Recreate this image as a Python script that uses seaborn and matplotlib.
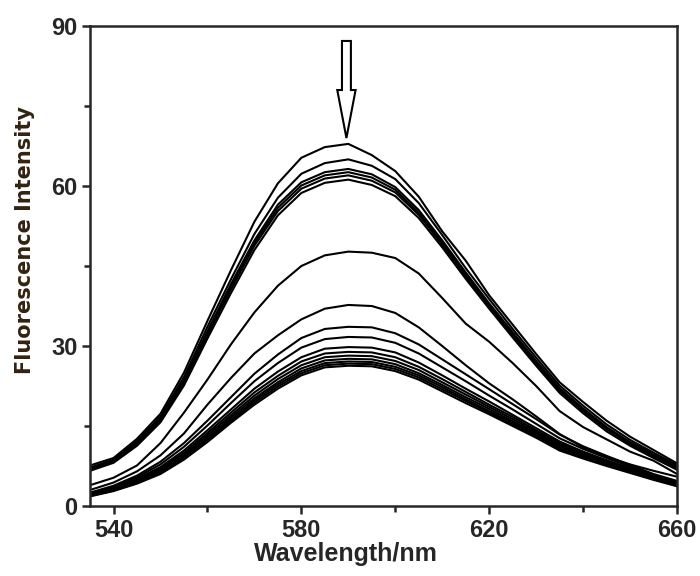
import numpy as np
import pandas as pd
import seaborn as sns
import matplotlib
matplotlib.use('Agg')
import matplotlib.pyplot as plt
from matplotlib.patches import FancyArrow
from matplotlib.ticker import MultipleLocator

# wavelength grid (nm), read every 5 nm
wavelength = [535, 540, 545, 550, 555, 560, 565, 570, 575, 580, 585, 590, 595,
              600, 605, 610, 615, 620, 625, 630, 635, 640, 645, 650, 655, 660]

# fluorescence spectra (top to bottom)
curve_a = [7.6, 9.0, 12.6, 17.3, 25.0, 34.7, 44.2, 53.3, 60.5, 65.3, 67.3, 67.9, 65.8,
           62.8, 58.0, 51.5, 46.0, 39.5, 34.0, 28.5, 23.2, 19.5, 16.0, 13.0, 10.5, 8.0]
curve_b = [7.2, 8.7, 12.2, 16.8, 24.2, 33.6, 42.5, 51.0, 57.8, 62.3, 64.3, 65.0, 63.8,
           61.3, 56.8, 50.8, 44.6, 38.8, 33.2, 27.8, 22.6, 18.8, 15.3, 12.4, 10.0, 7.7]
curve_c = [7.0, 8.5, 11.9, 16.4, 23.6, 32.8, 41.6, 49.8, 56.5, 60.7, 62.6, 63.2, 62.2,
           59.8, 55.5, 49.8, 43.8, 38.0, 32.6, 27.2, 22.1, 18.3, 14.8, 12.0, 9.7, 7.4]
curve_d = [6.9, 8.4, 11.8, 16.2, 23.3, 32.4, 41.1, 49.3, 55.9, 60.1, 62.0, 62.6, 61.6,
           59.3, 55.0, 49.4, 43.4, 37.7, 32.3, 27.0, 21.9, 18.1, 14.6, 11.8, 9.5, 7.2]
curve_e = [6.8, 8.3, 11.6, 16.0, 23.0, 32.0, 40.6, 48.8, 55.3, 59.5, 61.4, 62.0, 61.0,
           58.8, 54.6, 49.0, 43.0, 37.4, 32.0, 26.7, 21.6, 17.8, 14.4, 11.6, 9.3, 7.0]
curve_f = [6.6, 8.1, 11.3, 15.7, 22.6, 31.4, 39.9, 48.0, 54.5, 58.7, 60.6, 61.2, 60.2,
           58.1, 54.0, 48.5, 42.6, 37.0, 31.6, 26.3, 21.2, 17.4, 14.0, 11.3, 9.0, 6.8]
curve_g = [3.9, 5.3, 7.6, 11.8, 17.5, 23.7, 30.3, 36.3, 41.3, 45.0, 47.0, 47.7, 47.5,
           46.5, 43.6, 39.0, 34.2, 30.8, 26.8, 22.5, 17.8, 14.8, 12.5, 10.2, 8.5, 6.0]
curve_h = [3.0, 4.4, 6.5, 9.5, 13.6, 19.0, 24.0, 28.6, 32.0, 35.0, 37.0, 37.7, 37.5,
           36.2, 33.5, 30.0, 26.4, 23.0, 20.0, 16.8, 13.5, 11.0, 9.2, 7.8, 6.6, 5.5]
curve_i = [2.5, 3.8, 5.7, 8.3, 11.8, 16.0, 20.4, 24.8, 28.4, 31.5, 33.2, 33.6, 33.5,
           32.4, 30.3, 27.5, 24.7, 21.9, 19.1, 16.3, 13.4, 11.2, 9.4, 7.7, 6.0, 4.7]
curve_j = [2.4, 3.6, 5.4, 7.8, 11.1, 15.1, 19.3, 23.4, 26.8, 29.7, 31.3, 31.7, 31.6,
           30.6, 28.6, 26.0, 23.4, 20.7, 18.1, 15.4, 12.7, 10.7, 9.0, 7.4, 5.8, 4.5]
curve_k = [2.3, 3.4, 5.1, 7.3, 10.4, 14.2, 18.1, 22.0, 25.2, 27.9, 29.5, 29.8, 29.7,
           28.8, 26.9, 24.5, 22.0, 19.6, 17.1, 14.6, 12.1, 10.2, 8.6, 7.1, 5.6, 4.3]
curve_l = [2.2, 3.3, 4.9, 7.0, 10.0, 13.7, 17.5, 21.3, 24.4, 27.1, 28.6, 28.9, 28.8,
           27.9, 26.1, 23.8, 21.4, 19.0, 16.7, 14.2, 11.8, 9.9, 8.4, 6.9, 5.4, 4.2]
curve_m = [2.1, 3.2, 4.7, 6.8, 9.7, 13.3, 17.0, 20.7, 23.8, 26.4, 27.9, 28.2, 28.1,
           27.2, 25.5, 23.2, 20.9, 18.6, 16.3, 13.9, 11.5, 9.7, 8.2, 6.8, 5.3, 4.1]
curve_n = [2.0, 3.1, 4.6, 6.6, 9.4, 12.9, 16.6, 20.2, 23.2, 25.8, 27.3, 27.6, 27.5,
           26.6, 24.9, 22.7, 20.4, 18.2, 15.9, 13.6, 11.2, 9.5, 8.0, 6.6, 5.2, 4.0]
curve_o = [2.0, 3.0, 4.4, 6.4, 9.1, 12.6, 16.2, 19.8, 22.8, 25.3, 26.8, 27.1, 27.0,
           26.1, 24.5, 22.3, 20.0, 17.8, 15.6, 13.3, 10.9, 9.3, 7.8, 6.5, 5.1, 3.9]
curve_p = [1.9, 2.9, 4.3, 6.2, 8.9, 12.3, 15.9, 19.4, 22.4, 24.9, 26.4, 26.7, 26.6,
           25.7, 24.1, 21.9, 19.7, 17.5, 15.3, 13.1, 10.7, 9.1, 7.7, 6.4, 5.0, 3.8]
curve_q = [1.8, 2.8, 4.2, 6.0, 8.7, 12.0, 15.6, 19.0, 22.0, 24.5, 26.0, 26.3, 26.2,
           25.3, 23.7, 21.5, 19.3, 17.2, 15.0, 12.8, 10.4, 8.9, 7.5, 6.2, 4.9, 3.7]

curves = [curve_a, curve_b, curve_c, curve_d, curve_e, curve_f, curve_g, curve_h,
          curve_i, curve_j, curve_k, curve_l, curve_m, curve_n, curve_o, curve_p, curve_q]

df = pd.concat([pd.DataFrame({'wavelength': wavelength, 'intensity': c, 'curve': i})
                for i, c in enumerate(curves)], ignore_index=True)

sns.set_style('ticks')
plt.rcParams['font.family'] = ['Liberation Sans', 'DejaVu Sans']

fig = plt.figure(figsize=(7, 5.76), dpi=100)
ax = fig.add_axes([0.1286, 0.1215, 0.8386, 0.8333])

sns.lineplot(data=df, x='wavelength', y='intensity', units='curve', estimator=None,
             color='black', linewidth=1.5, ax=ax, legend=False)

ax.set_xlim(535, 660)
ax.set_ylim(0, 90)
ax.set_xticks([540, 580, 620, 660])
ax.xaxis.set_minor_locator(MultipleLocator(20))
ax.yaxis.set_major_locator(MultipleLocator(30))
ax.yaxis.set_minor_locator(MultipleLocator(15))

ax.tick_params(which='major', direction='out', length=6, width=1.8,
               labelsize=17, pad=3, top=False, right=False)
ax.tick_params(which='minor', direction='out', length=4, width=1.8,
               top=False, right=False)
for lab in ax.get_xticklabels() + ax.get_yticklabels():
    lab.set_fontweight('bold')

for side in ['top', 'right', 'bottom', 'left']:
    ax.spines[side].set_visible(True)
    ax.spines[side].set_linewidth(1.8)

ax.set_xlabel('Wavelength/nm', fontsize=18, fontweight='bold', labelpad=0)
ax.xaxis.set_label_coords(0.436, -0.075)
ax.set_ylabel('Fluorescence Intensity', fontsize=15, fontweight='bold',
              family='DejaVu Sans', color='#33220f')
ax.yaxis.set_label_coords(-0.093, 0.554)

# hollow arrow marking the decrease
arrow = FancyArrow(589.6, 87.2, 0, -18.2, width=1.9, head_width=3.9,
                   head_length=9.0, length_includes_head=True,
                   facecolor='white', edgecolor='black', linewidth=1.5, zorder=5)
ax.add_patch(arrow)

fig.savefig('out.png', dpi=100)
